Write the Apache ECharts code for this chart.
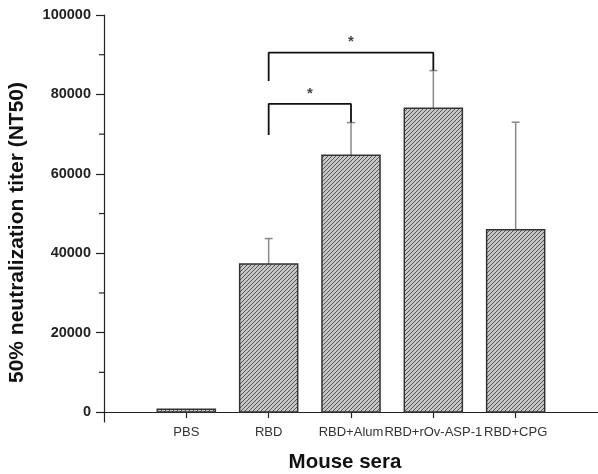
<!DOCTYPE html>
<html>
<head>
<meta charset="utf-8">
<script src="https://cdn.jsdelivr.net/npm/echarts@6/dist/echarts.min.js"></script>
<style>
  html, body { margin: 0; padding: 0; background: #fff; }
  #chart { width: 598px; height: 474px; }
</style>
</head>
<body>
<div id="chart"></div>
<script>
// groups sit at x = 1..5 on a value axis so the brackets can share it
const groups = ["PBS", "RBD", "RBD+Alum", "RBD+rOv-ASP-1", "RBD+CPG"];
const means = [700, 37300, 64700, 76500, 45900];
const errTops = [700, 43700, 72900, 86000, 73000];
const yTicks = [0, 20000, 40000, 60000, 80000, 100000];
const yMinorTicks = [10000, 30000, 50000, 70000, 90000];

// significance brackets: [x, y] polylines plus star positions
const bracketWide = [[2, 83400], [2, 90500], [4, 90500], [4, 86000]];
const bracketNarrow = [[2, 69800], [2, 77600], [3, 77600], [3, 72900]];
const stars = [[3, 93300], [2.5, 80200]];

// hatch pattern for the bars
function hatch() {
  const c = document.createElement("canvas");
  c.width = 4;
  c.height = 4;
  const ctx = c.getContext("2d");
  ctx.fillStyle = "#c6c6c6";
  ctx.fillRect(0, 0, 4, 4);
  ctx.strokeStyle = "#555";
  ctx.lineWidth = 1;
  ctx.beginPath();
  ctx.moveTo(-1, 5);
  ctx.lineTo(5, -1);
  ctx.moveTo(-1, 1);
  ctx.lineTo(1, -1);
  ctx.moveTo(3, 5);
  ctx.lineTo(5, 3);
  ctx.stroke();
  return c;
}

const mychart = echarts.init(document.getElementById("chart"));
const barData = means.map((v, i) => [i + 1, v]);
const errData = means.map((v, i) => [i + 1, v, errTops[i]]);

const option = {
  animation: false,
  textStyle: { fontFamily: "Liberation Sans, Arial, sans-serif" },
  grid: { left: 104, right: 0, top: 15, bottom: 52, outerBoundsMode: "none", containLabel: false },
  xAxis: {
    type: "value",
    min: 0,
    max: 6,
    interval: 1,
    splitLine: { show: false },
    axisLine: { onZero: true, lineStyle: { color: "#222", width: 1.2 } },
    axisTick: {
      customValues: [1, 2, 3, 4, 5],
      length: 6,
      inside: false,
      lineStyle: { color: "#222", width: 1.2 }
    },
    axisLabel: {
      customValues: [1, 2, 3, 4, 5],
      formatter: v => groups[Math.round(v) - 1] || "",
      color: "#333",
      fontSize: 13,
      margin: 4,
      hideOverlap: false,
      showMinLabel: true,
      showMaxLabel: true
    },
    name: "Mouse sera",
    nameLocation: "middle",
    nameGap: 30,
    nameTextStyle: { fontSize: 20.5, fontWeight: "bold", color: "#111", padding: [0, 12, 0, 0] }
  },
  yAxis: {
    type: "value",
    min: -2500,
    max: 100000,
    splitLine: { show: false },
    axisLine: { show: true, lineStyle: { color: "#222", width: 1.2 } },
    axisTick: {
      customValues: yTicks,
      length: 8,
      lineStyle: { color: "#222", width: 1.2 }
    },
    axisLabel: {
      customValues: yTicks,
      formatter: v => String(v),
      color: "#222",
      fontSize: 14.5,
      fontWeight: "bold",
      margin: 13
    },
    name: "50% neutralization titer (NT50)",
    nameLocation: "middle",
    nameGap: 76,
    nameTextStyle: { fontSize: 21, fontWeight: "bold", color: "#111", padding: [0, 28, 0, 0] }
  },
  series: [
    {
      type: "custom",
      name: "minorTicks",
      silent: true,
      z: 3,
      renderItem: (params, api) => {
        const p = api.coord([0, api.value(0)]);
        return {
          type: "line",
          shape: { x1: p[0] - 5, y1: p[1], x2: p[0], y2: p[1] },
          style: { stroke: "#222", lineWidth: 1.2 }
        };
      },
      clip: false,
      data: yMinorTicks.map(v => [v]),
      encode: { y: 0 }
    },
    {
      type: "custom",
      name: "bars",
      z: 2,
      renderItem: (params, api) => {
        const x = api.value(0);
        const top = api.coord([x, api.value(1)]);
        const base = api.coord([x, 0]);
        const w = api.size([1, 0])[0] * 0.705;
        return {
          type: "rect",
          shape: { x: top[0] - w / 2, y: top[1], width: w, height: base[1] - top[1] },
          style: { fill: { image: hatch(), repeat: "repeat" }, stroke: "#333", lineWidth: 1.5 }
        };
      },
      data: barData
    },
    {
      type: "custom",
      name: "errors",
      z: 1,
      renderItem: (params, api) => {
        const x = api.value(0);
        if (api.value(2) <= api.value(1)) return null;
        const lo = api.coord([x, api.value(1)]);
        const hi = api.coord([x, api.value(2)]);
        return {
          type: "group",
          children: [
            { type: "line", shape: { x1: lo[0], y1: lo[1], x2: hi[0], y2: hi[1] }, style: { stroke: "#8a8a8a", lineWidth: 1.5 } },
            { type: "line", shape: { x1: hi[0] - 4, y1: hi[1], x2: hi[0] + 4, y2: hi[1] }, style: { stroke: "#8a8a8a", lineWidth: 1.5 } }
          ]
        };
      },
      data: errData
    },
    {
      type: "line",
      data: bracketWide,
      symbol: "none",
      lineStyle: { color: "#111", width: 1.8 },
      z: 4
    },
    {
      type: "line",
      data: bracketNarrow,
      symbol: "none",
      lineStyle: { color: "#111", width: 1.8 },
      z: 4
    },
    {
      type: "scatter",
      data: stars,
      symbolSize: 0,
      label: {
        show: true,
        position: "inside",
        formatter: "*",
        fontSize: 15,
        fontWeight: "bold",
        color: "#111"
      },
      z: 4
    }
  ]
};
mychart.setOption(option);
</script>
</body>
</html>
